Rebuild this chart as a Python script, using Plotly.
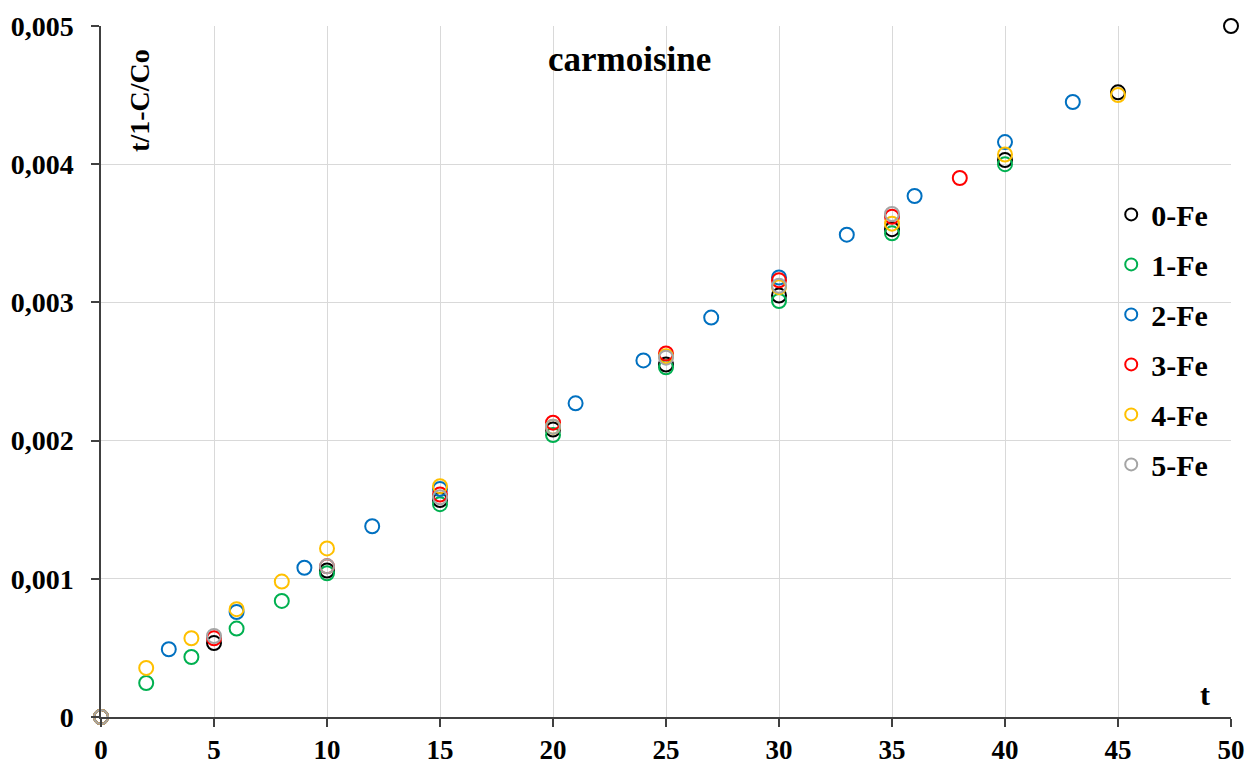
import plotly.graph_objects as go

# ---- data ----
x_0fe = [0, 5, 10, 15, 20, 25, 30, 35, 40, 45, 50]
y_0fe = [0, 0.000535, 0.00106, 0.00157, 0.00208, 0.00255, 0.00305, 0.00353, 0.00403, 0.00452, 0.005]

x_1fe = [0, 2, 4, 6, 8, 10, 15, 20, 25, 30, 35, 40]
y_1fe = [0, 0.000246, 0.000434, 0.00064, 0.00084, 0.00104, 0.00154, 0.00204, 0.00253, 0.00301, 0.0035, 0.004]

x_2fe = [0, 3, 6, 9, 12, 15, 21, 24, 27, 30, 33, 36, 40, 43]
y_2fe = [0, 0.00049, 0.00076, 0.00108, 0.00138, 0.00165, 0.00227, 0.00258, 0.00289, 0.00318, 0.00349, 0.00377, 0.00416, 0.00445]

x_3fe = [0, 5, 10, 15, 20, 25, 30, 35, 38]
y_3fe = [0, 0.00057, 0.00109, 0.00161, 0.00213, 0.00263, 0.00316, 0.00362, 0.0039]

x_4fe = [0, 2, 4, 6, 8, 10, 15, 20, 25, 30, 35, 40, 45]
y_4fe = [0, 0.000355, 0.00057, 0.00078, 0.00098, 0.00122, 0.00167, 0.0021, 0.00261, 0.00311, 0.00357, 0.00407, 0.0045]

x_5fe = [0, 5, 10, 15, 20, 25, 30, 35]
y_5fe = [0, 0.000586, 0.00109, 0.00159, 0.0021, 0.0026, 0.00312, 0.00364]

series_names = ["0-Fe", "1-Fe", "2-Fe", "3-Fe", "4-Fe", "5-Fe"]
series_colors = ["#000000", "#00B050", "#0070C0", "#FF0000", "#FFC000", "#A5A5A5"]

x_ticks = [0, 5, 10, 15, 20, 25, 30, 35, 40, 45, 50]
y_ticks = [0, 0.001, 0.002, 0.003, 0.004, 0.005]
y_tick_labels = ["0", "0,001", "0,002", "0,003", "0,004", "0,005"]

FONT = "Liberation Serif"

fig = go.Figure()
all_x = [x_0fe, x_1fe, x_2fe, x_3fe, x_4fe, x_5fe]
all_y = [y_0fe, y_1fe, y_2fe, y_3fe, y_4fe, y_5fe]
for name, color, xs, ys in zip(series_names, series_colors, all_x, all_y):
    fig.add_trace(go.Scatter(
        x=xs, y=ys, name=name, mode="markers", legendgroup=name,
        cliponaxis=False,
        marker=dict(symbol="circle-open", size=14, color=color, line=dict(width=2, color=color)),
    ))

axis_common = dict(
    showgrid=True, gridcolor="#D9D9D9", gridwidth=1,
    showline=True, linecolor="#404040", linewidth=1.5,
    ticks="outside", ticklen=8, tickcolor="#404040", tickwidth=1.5,
    zeroline=False, automargin=False,
)

fig.update_xaxes(range=[0, 50], tickvals=x_ticks, ticktext=[str(v) for v in x_ticks],
                 ticklabelstandoff=0,
                 tickfont=dict(family=FONT, size=27, color="#000000", weight="bold"),
                 **axis_common)
fig.update_yaxes(range=[0, 0.005], tickvals=y_ticks, ticktext=y_tick_labels,
                 ticklabelstandoff=12,
                 tickfont=dict(family=FONT, size=28, color="#000000", weight="bold"),
                 **axis_common)

fig.update_layout(
    width=1249, height=765,
    margin=dict(l=101, r=18, t=26, b=48),
    plot_bgcolor="white", paper_bgcolor="white",
    showlegend=True,
    legend=dict(
        x=0.894, y=0.765, xanchor="left", yanchor="top",
        font=dict(family=FONT, size=30, color="#000000", weight="bold"),
        tracegroupgap=8, itemsizing="constant", itemwidth=30, bgcolor="rgba(0,0,0,0)",
    ),
    annotations=[
        dict(text="carmoisine", x=0.468, y=0.951, xref="paper", yref="paper",
             xanchor="center", yanchor="middle",
             showarrow=False, font=dict(family=FONT, size=35, color="#000000", weight="bold")),
        dict(text="t/1-C/Co", x=0.0345, y=0.893, xref="paper", yref="paper", textangle=-90,
             xanchor="center", yanchor="middle",
             showarrow=False, font=dict(family=FONT, size=28, color="#000000", weight="bold")),
        dict(text="t", x=0.977, y=0.032, xref="paper", yref="paper",
             xanchor="center", yanchor="middle",
             showarrow=False, font=dict(family=FONT, size=30, color="#000000", weight="bold")),
    ],
)

fig.write_html(
    "out.html",
    config={"displayModeBar": False},
    post_script="document.body.style.margin='0';document.body.style.overflow='hidden';",
)
